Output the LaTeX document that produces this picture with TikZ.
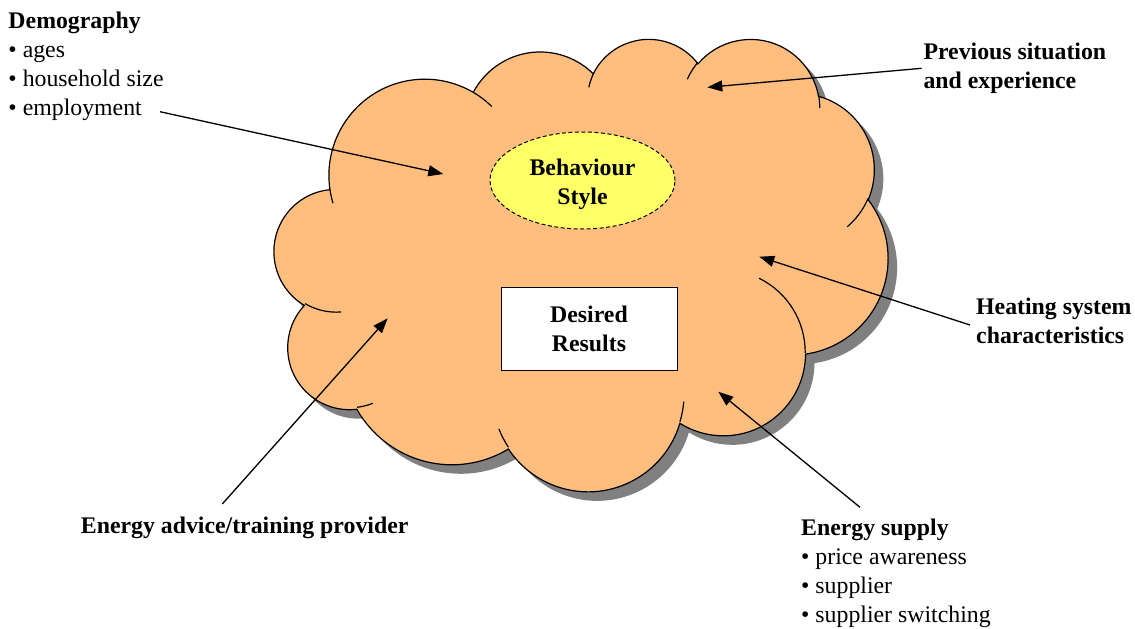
\documentclass[tikz,border=0pt]{standalone}
\usepackage{fontspec}
\setmainfont{Liberation Serif}
\usetikzlibrary{arrows.meta,shapes.geometric}
\makeatletter
% OOXML-style arcTo: convert visual angles to parametric angles
\newcommand\ooprep[5]{%
  \pgfmathsetmacro\oo@a{#4}%
  \pgfmathsetmacro\oo@b{#4+#5}%
  \pgfmathsetmacro\oo@d{atan2(#2*sin(\oo@a),#3*cos(\oo@a))-\oo@a}%
  \pgfmathsetmacro\oo@s{\oo@a+\oo@d-360*round(\oo@d/360)}%
  \pgfmathsetmacro\oo@d{atan2(#2*sin(\oo@b),#3*cos(\oo@b))-\oo@b}%
  \pgfmathsetmacro\oo@e{\oo@b+\oo@d-360*round(\oo@d/360)}%
  \expandafter\xdef\csname oos#1\endcsname{\oo@s}%
  \expandafter\xdef\csname ooe#1\endcsname{\oo@e}%
}
\makeatother
% outline arcs
\ooprep{A}{6.753}{9.190}{-190.48748}{123.78053}
\ooprep{B}{5.333}{7.267}{-144.10238}{89.94523}
\ooprep{C}{4.365}{5.945}{-145.80792}{99.72302}
\ooprep{D}{4.857}{6.595}{-130.98607}{117.24173}
\ooprep{E}{5.333}{7.273}{-78.70888}{109.02692}
\ooprep{F}{6.775}{9.220}{-46.26725}{130.26900}
\ooprep{G}{5.785}{7.867}{0.62502}{114.03333}
\ooprep{H}{6.752}{9.215}{22.45160}{115.17255}
\ooprep{I}{7.720}{10.543}{66.24263}{75.71102}
\ooprep{J}{4.360}{5.918}{-274.94208}{146.73557}
\ooprep{K}{4.345}{5.945}{-246.82850}{152.51885}
% inner arcs
\ooprep{a}{4.345}{5.945}{86.742}{26.4295}
\ooprep{b}{4.360}{5.918}{73.61047}{11.44747}
\ooprep{c}{6.752}{9.215}{137.62415}{14.0811}
\ooprep{d}{6.752}{9.215}{6.45327}{15.99835}
\ooprep{e}{5.785}{7.867}{-70.29235}{70.91737}
\ooprep{f}{5.333}{7.273}{30.31803}{27.7515}
\ooprep{g}{4.857}{6.595}{-13.74433}{14.8589}
\ooprep{h}{4.857}{6.595}{-149.18145}{18.19537}
\ooprep{i}{4.365}{5.945}{-163.49427}{17.68635}
\ooprep{j}{6.753}{9.190}{-66.70695}{12.31935}
\ooprep{k}{6.753}{9.190}{157.65435}{11.85817}

\newcommand\cloudoutline{(3.900,14.370)
  arc[x radius=6.753, y radius=9.190, start angle=\oosA, end angle=\ooeA]
  arc[x radius=5.333, y radius=7.267, start angle=\oosB, end angle=\ooeB]
  arc[x radius=4.365, y radius=5.945, start angle=\oosC, end angle=\ooeC]
  arc[x radius=4.857, y radius=6.595, start angle=\oosD, end angle=\ooeD]
  arc[x radius=5.333, y radius=7.273, start angle=\oosE, end angle=\ooeE]
  arc[x radius=6.775, y radius=9.220, start angle=\oosF, end angle=\ooeF]
  arc[x radius=5.785, y radius=7.867, start angle=\oosG, end angle=\ooeG]
  arc[x radius=6.752, y radius=9.215, start angle=\oosH, end angle=\ooeH]
  arc[x radius=7.720, y radius=10.543, start angle=\oosI, end angle=\ooeI]
  arc[x radius=4.360, y radius=5.918, start angle=\oosJ, end angle=\ooeJ]
  arc[x radius=4.345, y radius=5.945, start angle=\oosK, end angle=\ooeK]
  -- cycle}

\definecolor{cloudfill}{RGB}{255,190,125}
\definecolor{shadowgray}{RGB}{128,128,128}
\definecolor{bsyellow}{RGB}{255,255,102}

\tikzset{
  lbl/.style={font=\fontsize{23.8}{29}\selectfont, inner sep=0pt, align=left, anchor=base west},
  conn/.style={line width=1.3pt, -{Triangle[length=15pt,width=11pt]}},
  cloudedge/.style={line width=1.2pt},
  boxtext/.style={font=\fontsize{23.8}{29}\selectfont\bfseries, align=center, inner sep=0pt}
}

\begin{document}
\begin{tikzpicture}[x=1pt,y=-1pt]
\useasboundingbox (0,0) rectangle (1135,629);

% shadow
\begin{scope}[shift={(283.4,46.9)}, xscale=14.2, yscale=10.47]
  \fill[shadowgray] \cloudoutline;
\end{scope}
% cloud
\begin{scope}[shift={(274.4,37.9)}, xscale=14.2, yscale=10.47]
  \filldraw[fill=cloudfill, draw=black, cloudedge] \cloudoutline;
  \draw[cloudedge]
    (4.693,26.177) arc[x radius=4.345, y radius=5.945, start angle=\oosa, end angle=\ooea]
    (6.928,34.899) arc[x radius=4.360, y radius=5.918, start angle=\oosb, end angle=\ooeb]
    (16.478,39.090) arc[x radius=6.752, y radius=9.215, start angle=\oosc, end angle=\ooec]
    (28.827,34.751) arc[x radius=6.752, y radius=9.215, start angle=\oosd, end angle=\ooed]
    (34.129,22.954) arc[x radius=5.785, y radius=7.867, start angle=\oose, end angle=\ooee]
    (41.798,15.354) arc[x radius=5.333, y radius=7.273, start angle=\oosf, end angle=\ooef]
    (38.324,5.426) arc[x radius=4.857, y radius=6.595, start angle=\oosg, end angle=\ooeg]
    (29.078,3.952) arc[x radius=4.857, y radius=6.595, start angle=\oosh, end angle=\ooeh]
    (22.141,4.720) arc[x radius=4.365, y radius=5.945, start angle=\oosi, end angle=\ooei]
    (14.000,5.192) arc[x radius=6.753, y radius=9.190, start angle=\oosj, end angle=\ooej]
    (4.127,15.789) arc[x radius=6.753, y radius=9.190, start angle=\oosk, end angle=\ooek];
\end{scope}

% inner shapes
\node[ellipse, draw, fill=bsyellow, line width=1pt, dash pattern=on 4pt off 2.5pt,
      minimum width=185pt, minimum height=97pt, boxtext, text height=47.5pt, text depth=0pt] (behav) at (582.5,180.5) {Behaviour\\Style};
\node[rectangle, draw, fill=white, line width=1pt,
      minimum width=176pt, minimum height=83pt, boxtext] (desired) at (589,328.5) {Desired\\Results};

% labels (anchor = baseline of the last line)
\node[lbl] (demo) at (8.3,115) {\textbf{Demography}\\• ages\\• household size\\• employment};
\node[lbl] (prev) at (923.3,88.3) {\textbf{Previous situation}\\\textbf{and experience}};
\node[lbl] (heat) at (976,343.3) {\textbf{Heating system}\\\textbf{characteristics}};
\node[lbl] (advice) at (80.7,533.3) {\textbf{Energy advice/training provider}};
\node[lbl] (supply) at (801,622.7) {\textbf{Energy supply}\\• price awareness\\• supplier\\• supplier switching};

% arrow endpoints
\coordinate (demoS) at (160,111.7);   \coordinate (demoT) at (443.3,174);
\coordinate (prevS) at (921.7,68.3);  \coordinate (prevT) at (707.3,87.3);
\coordinate (heatS) at (970,325);     \coordinate (heatT) at (759.3,256.7);
\coordinate (supS) at (860,507.3);    \coordinate (supT) at (718.3,391.7);
\coordinate (advS) at (222.3,504);    \coordinate (advT) at (387.7,318.3);

\draw[conn] (demoS) -- (demoT);
\draw[conn] (prevS) -- (prevT);
\draw[conn] (heatS) -- (heatT);
\draw[conn] (supS) -- (supT);
\draw[conn] (advS) -- (advT);
\end{tikzpicture}
\end{document}
